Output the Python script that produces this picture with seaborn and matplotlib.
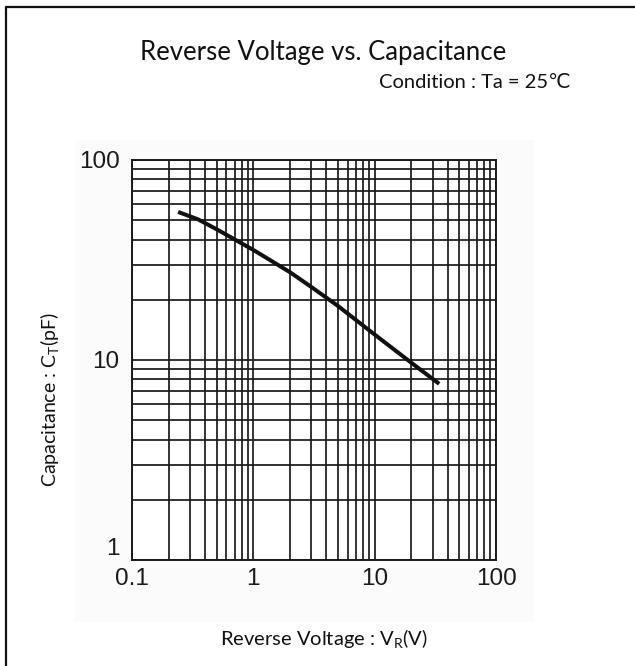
import matplotlib
matplotlib.use("Agg")
import matplotlib.pyplot as plt
import seaborn as sns
import pandas as pd
from matplotlib.lines import Line2D
from matplotlib.patches import Rectangle
from matplotlib.ticker import LogLocator, NullFormatter, FixedLocator

sns.set_theme(style="white")
plt.rcParams['font.family'] = ['Lato', 'DejaVu Sans']
plt.rcParams['mathtext.fontset'] = 'custom'
plt.rcParams['mathtext.rm'] = 'Lato'
plt.rcParams['mathtext.it'] = 'Lato'

# Data
voltage = [0.24, 0.35, 0.5, 1.0, 2.0, 3.0, 5.0, 10.0, 20.0, 34.0]
capacitance = [55.0, 50.5, 45.0, 35.5, 27.5, 23.2, 18.6, 13.4, 9.7, 7.6]
x_ticks = [0.1, 1, 10, 100]
x_tick_labels = ["0.1", "1", "10", "100"]
y_ticks = [1, 10, 100]
y_tick_labels = ["1", "10", "100"]

title = "Reverse Voltage vs. Capacitance"
subtitle = "Condition : Ta = 25\u2103"
xlabel = r"Reverse Voltage : V$_\mathregular{R}$(V)"
ylabel = r"Capacitance : C$_\mathregular{T}$(pF)"

W, H = 635, 666
fig = plt.figure(figsize=(W / 100, H / 100), dpi=100)
fig.patch.set_facecolor("white")

# faint background of the embedded chart picture
fig.add_artist(Rectangle((75 / W, 1 - 622 / H), (534 - 75) / W, (622 - 140) / H,
                         transform=fig.transFigure, facecolor="#fbfbfb",
                         edgecolor="none", zorder=-5))

ax = fig.add_axes([132 / W, 1 - 560 / H, (496 - 132) / W, (560 - 160) / H])
ax.set_facecolor("white")

df = pd.DataFrame({"V": voltage, "C": capacitance})
sns.lineplot(data=df, x="V", y="C", ax=ax, color="#111111", linewidth=2.9,
             solid_capstyle="butt", zorder=5)

ax.set_xscale("log")
ax.set_yscale("log")
ax.set_xlim(0.1, 100)
ax.set_ylim(1, 100)

ax.xaxis.set_major_locator(FixedLocator(x_ticks))
ax.yaxis.set_major_locator(FixedLocator(y_ticks))
ax.xaxis.set_minor_locator(LogLocator(base=10, subs=range(2, 10), numticks=20))
ax.yaxis.set_minor_locator(LogLocator(base=10, subs=range(2, 10), numticks=20))
ax.xaxis.set_minor_formatter(NullFormatter())
ax.yaxis.set_minor_formatter(NullFormatter())
ax.set_xticklabels(x_tick_labels)
ax.set_yticklabels(y_tick_labels)

ax.grid(True, which="both", color="#1a1a1a", linewidth=1.25)
ax.tick_params(which="both", length=0)
ax.tick_params(axis="x", pad=6, labelsize=17.5, labelcolor="#1a1a1a")
ax.tick_params(axis="y", pad=9, labelsize=17.5, labelcolor="#1a1a1a")
for lab in ax.get_xticklabels() + ax.get_yticklabels():
    lab.set_family(["Liberation Sans", "DejaVu Sans"])
ylabs = ax.get_yticklabels()
ylabs[0].set_va("bottom")

for sp in ax.spines.values():
    sp.set_color("#1a1a1a")
    sp.set_linewidth(1.4)
ax.set_xlabel("")
ax.set_ylabel("")

fig.text(323 / W, 1 - 60 / H, title, ha="center", va="baseline", fontsize=18.5,
         color="#111111")
fig.text(571 / W, 1 - 88 / H, subtitle, ha="right", va="baseline", fontsize=14.5,
         color="#111111", family=["Lato", "DejaVu Sans"])
fig.text(324 / W, 1 - 645 / H, xlabel, ha="center", va="baseline", fontsize=14.5,
         color="#111111")
fig.text(50 / W, 1 - 400 / H, ylabel, ha="center", va="center", rotation=90,
         fontsize=14, color="#111111")

# partial page border (top and left)
fig.add_artist(Line2D([5.5 / W, 5.5 / W], [0, 1 - 7 / H], transform=fig.transFigure,
                      color="#111111", linewidth=1.6))
fig.add_artist(Line2D([5.5 / W, 1], [1 - 7 / H, 1 - 7 / H], transform=fig.transFigure,
                      color="#111111", linewidth=1.6))

fig.savefig("out.png", dpi=100)
